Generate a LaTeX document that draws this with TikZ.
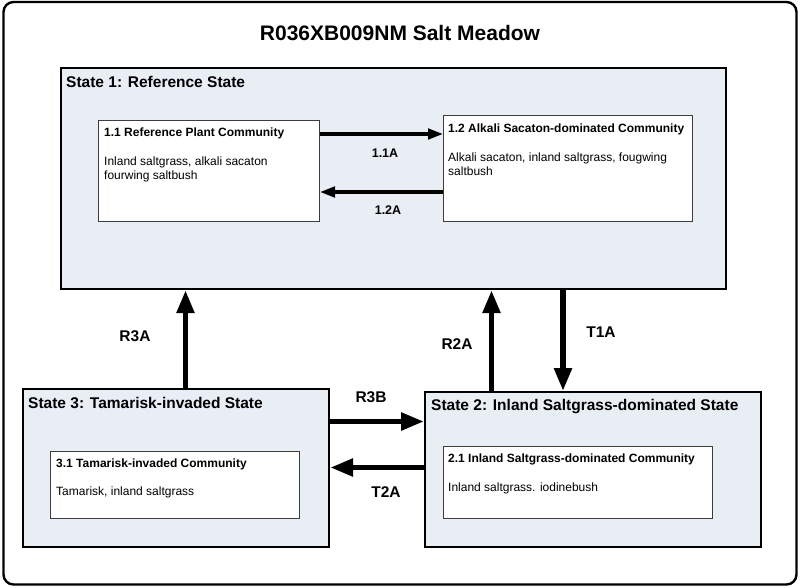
\documentclass[tikz,border=0pt]{standalone}
\usepackage{fontspec}
\setmainfont{Liberation Sans}
\usetikzlibrary{arrows.meta}
\definecolor{statefill}{RGB}{233,237,244}
\definecolor{boxline}{RGB}{60,60,60}
\tikzset{
  outerbox/.style={draw=black, line width=2.4pt, rounded corners=10pt},
  statebox/.style={draw=black, line width=2.2pt, fill=statefill, rectangle, anchor=north west, inner sep=0pt},
  commbox/.style={draw=boxline, line width=1pt, fill=white, rectangle, anchor=north west, inner sep=0pt},
  titletext/.style={font=\fontsize{21}{25}\selectfont\bfseries, inner sep=0pt},
  statetext/.style={font=\fontsize{15.5}{18}\selectfont\bfseries, anchor=base west, inner sep=0pt},
  commtitle/.style={font=\fontsize{12}{14}\selectfont\bfseries, anchor=base west, inner sep=0pt},
  commbody/.style={font=\fontsize{12}{13.5}\selectfont, anchor=base west, inner sep=0pt, align=left},
  smalllabel/.style={font=\fontsize{12.5}{15}\selectfont\bfseries, inner sep=0pt},
  biglabel/.style={font=\fontsize{15.5}{18}\selectfont\bfseries, inner sep=0pt},
  thinarrow/.style={line width=3.2pt, -{Triangle[length=15pt,width=10.5pt]}},
  thickarrow/.style={line width=5.5pt, -{Triangle[length=23pt,width=17pt]}}
}
\begin{document}
\begin{tikzpicture}[x=1pt,y=-1pt]
\useasboundingbox (0,0) rectangle (800,587);
\fill[white] (0,0) rectangle (800,587);
\draw[outerbox] (3.5,2) rectangle (796.5,584.5);
\node[titletext] (title) at (400,33) {R036XB009NM Salt Meadow};

% state boxes
\node[statebox, minimum width=665pt, minimum height=221pt] (s1) at (60,67) {};
\node[statebox, minimum width=306pt, minimum height=158pt] (s3) at (22,388) {};
\node[statebox, minimum width=336pt, minimum height=155pt] (s2) at (424,391) {};

% community boxes
\node[commbox, minimum width=221pt, minimum height=101pt] (c11) at (98,120) {};
\node[commbox, minimum width=249pt, minimum height=106pt] (c12) at (443,115) {};
\node[commbox, minimum width=249pt, minimum height=67pt] (c31) at (50,451) {};
\node[commbox, minimum width=269pt, minimum height=72pt] (c21) at (443,446) {};

% texts
\node[statetext] (t1) at (66,87.6) {State 1: Reference State};
\node[statetext] (t3) at (28,408.6) {State 3: Tamarisk-invaded State};
\node[statetext] (t2) at (431,410.6) {State 2: Inland Saltgrass-dominated State};

\node[commtitle] (t11) at (104,136) {1.1 Reference Plant Community};
\node[commbody] (b11) at (104,179) {Inland saltgrass, alkali sacaton\\fourwing saltbush};
\node[commtitle] (t12) at (448,132.5) {1.2 Alkali Sacaton-dominated Community};
\node[commbody] (b12) at (448,175) {Alkali sacaton, inland saltgrass, fougwing\\saltbush};
\node[commtitle] (t31) at (56,467.3) {3.1 Tamarisk-invaded Community};
\node[commbody] (b31) at (56,495.5) {Tamarisk, inland saltgrass};
\node[commtitle] (t21) at (448,462.3) {2.1 Inland Saltgrass-dominated Community};
\node[commbody] (b21) at (448,491.5) {Inland saltgrass. iodinebush};

% connector levels
\coordinate (y11) at (0,134);
\coordinate (y12) at (0,192);
\coordinate (yr3b) at (0,421.5);
\coordinate (yt2a) at (0,467.5);
\coordinate (xr3a) at (185.5,0);
\coordinate (xr2a) at (491.5,0);
\coordinate (xt1a) at (563,0);

% arrows
\draw[thinarrow] (c11.east |- y11) -- (c12.west |- y11);
\draw[thinarrow] (c12.west |- y12) -- (c11.east |- y12);
\draw[thickarrow] (s3.north -| xr3a) -- (s1.south -| xr3a);
\draw[thickarrow] (s2.north -| xr2a) -- (s1.south -| xr2a);
\draw[thickarrow] (s1.south -| xt1a) -- (s2.north -| xt1a);
\draw[thickarrow] (s3.east |- yr3b) -- (s2.west |- yr3b);
\draw[thickarrow] (s2.west |- yt2a) -- (s3.east |- yt2a);

% labels
\node[smalllabel] (l11) at (385,153) {1.1A};
\node[smalllabel] (l12) at (388,210) {1.2A};
\node[biglabel] (lr3a) at (135,336) {R3A};
\node[biglabel] (lr2a) at (457,344) {R2A};
\node[biglabel] (lt1a) at (601,332) {T1A};
\node[biglabel] (lr3b) at (371,397) {R3B};
\node[biglabel] (lt2a) at (386,492) {T2A};
\end{tikzpicture}
\end{document}
